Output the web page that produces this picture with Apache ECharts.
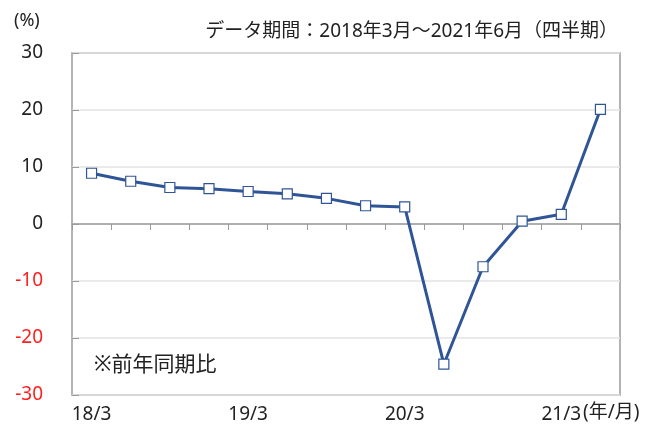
<!DOCTYPE html>
<html><head><meta charset="utf-8">
<script src="https://cdn.jsdelivr.net/npm/echarts@6/dist/echarts.min.js"></script>
<style>html,body{margin:0;padding:0;background:#fff}#c{width:660px;height:437px}</style>
</head><body><div id="c"></div>
<script>
const categories = ['18/3','18/6','18/9','18/12','19/3','19/6','19/9','19/12','20/3','20/6','20/9','20/12','21/3','21/6'];
const values = [8.9, 7.5, 6.4, 6.2, 5.7, 5.3, 4.5, 3.2, 3.0, -24.6, -7.5, 0.5, 1.7, 20.1];
const shownLabels = ['18/3','19/3','20/3','21/3'];
const FONT = '"Noto Sans", "Noto Sans CJK JP", sans-serif';
const chart = echarts.init(document.getElementById('c'), null, {renderer:'canvas'});
chart.setOption({
  animation:false,
  backgroundColor:'#fff',
  grid:{left:72,right:40,top:53,bottom:42,show:true,borderColor:'#9a9a9a',borderWidth:1.5,backgroundColor:'transparent'},
  xAxis:[{
    type:'category',data:categories,boundaryGap:true,
    axisLine:{onZero:true,lineStyle:{color:'#9a9a9a',width:1.5}},
    axisTick:{show:true,length:6,lineStyle:{color:'#9a9a9a'}},
    axisLabel:{show:false},splitLine:{show:false}
  },{
    type:'category',data:categories,position:'bottom',boundaryGap:true,
    axisLine:{show:false},axisTick:{show:false},splitLine:{show:false},
    axisLabel:{show:true,interval:0,margin:10,fontFamily:FONT,fontSize:19,color:'#222',
      formatter:v=>shownLabels.includes(v)?v:''}
  }],
  yAxis:{
    type:'value',min:-30,max:30,interval:10,
    axisLine:{show:false},
    axisTick:{show:true,inside:true,length:7,lineStyle:{color:'#9a9a9a'}},
    splitLine:{show:true,lineStyle:{color:'#e3e3e3',width:1.5}},
    axisLabel:{margin:29,fontFamily:FONT,fontSize:19,
      color:v=>v<0?'#ff2020':'#222'}
  },
  series:[{
    type:'line',data:values,xAxisIndex:0,
    symbol:'rect',symbolSize:10,
    lineStyle:{color:'#2f5597',width:3},
    itemStyle:{color:'#fff',borderColor:'#2f5597',borderWidth:1.2},
    z:5
  }],
  graphic:[
    {type:'text',left:14,top:12,style:{text:'(%)',font:'18px '+FONT,fill:'#222'}},
    {type:'text',right:42,top:22,style:{text:'データ期間：2018年3月～2021年6月（四半期）',font:'19px '+FONT,fill:'#222'}},
    {type:'text',left:94,top:355,style:{text:'※前年同期比',font:'21px '+FONT,fill:'#222'}},
    {type:'text',left:583,top:403,style:{text:'(年/月)',font:'19px '+FONT,fill:'#222'}}
  ]
});
</script></body></html>
